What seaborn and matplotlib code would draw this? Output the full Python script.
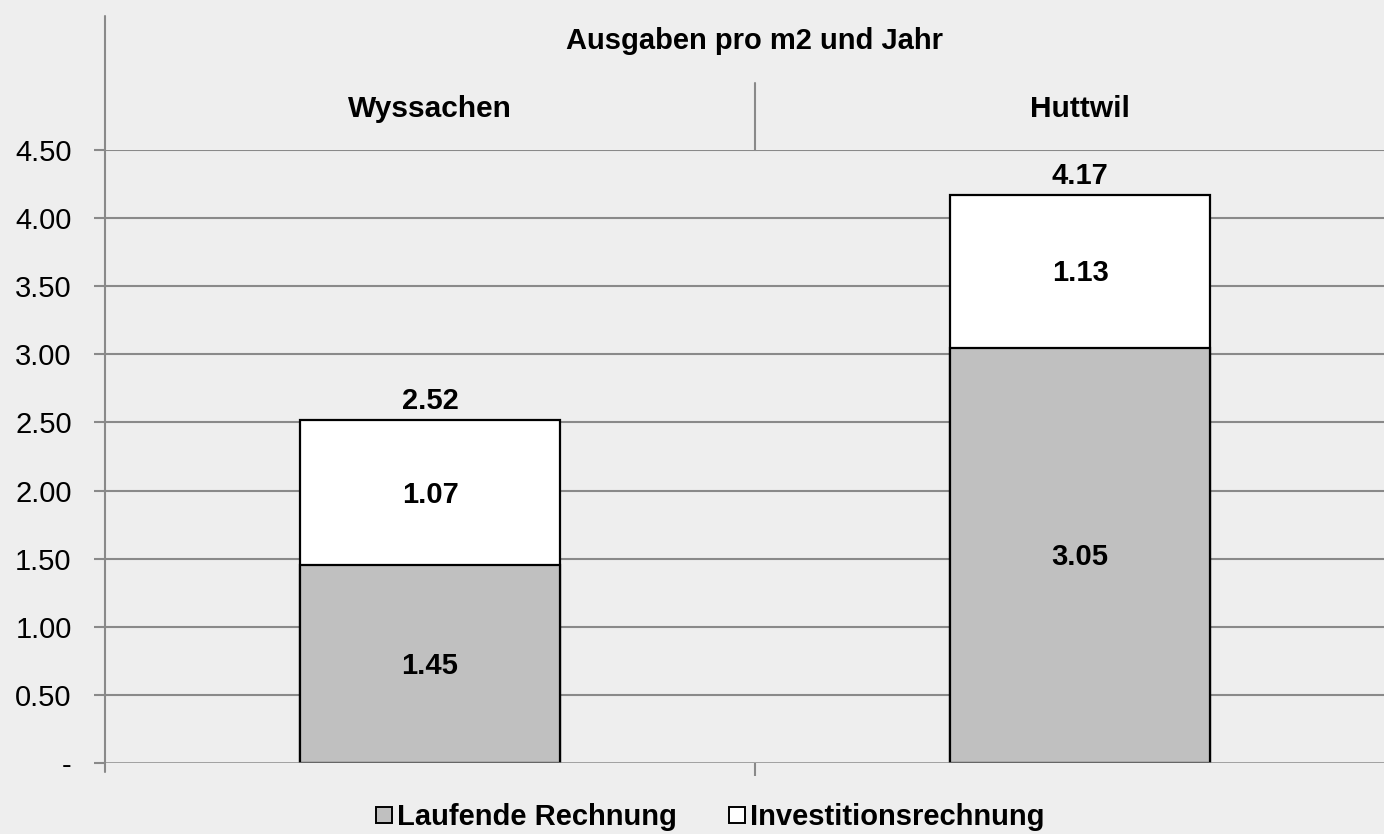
import matplotlib
matplotlib.use("Agg")
import matplotlib.pyplot as plt
import seaborn as sns
import pandas as pd
from matplotlib.lines import Line2D

# ---- data ----
gemeinden = ["Wyssachen", "Huttwil"]
laufende = [1.45, 3.05]
investition = [1.07, 1.13]
totals = [2.52, 4.17]
yticks = [0.0, 0.5, 1.0, 1.5, 2.0, 2.5, 3.0, 3.5, 4.0, 4.5]
ytick_labels = ["-", "0.50", "1.00", "1.50", "2.00", "2.50", "3.00", "3.50", "4.00", "4.50"]
title = "Ausgaben pro m2 und Jahr"
series_names = ["Laufende Rechnung", "Investitionsrechnung"]

sns.set_theme(style="white")
plt.rcParams["font.family"] = ["Liberation Sans", "DejaVu Sans"]
plt.rcParams["text.color"] = "black"
plt.rcParams["ytick.color"] = "black"
plt.rcParams["xtick.color"] = "black"

BG = "#EEEEEE"
GRID = "#898989"
GREY = "#C0C0C0"

W, H = 1384, 834
fig = plt.figure(figsize=(W / 100, H / 100), dpi=100, facecolor=BG)

def fx(x):
    return x / W

def fy(y):
    return 1 - y / H

ax_left, ax_right, ax_top, ax_bot = 105, 1405, 150, 763
ax = fig.add_axes([fx(ax_left), fy(ax_bot), (ax_right - ax_left) / W, (ax_bot - ax_top) / H])
ax.set_facecolor(BG)

df = pd.DataFrame({"Gemeinde": gemeinden, "Laufende": laufende,
                   "Investition": investition, "Total": totals})

# stacked look: total (white) drawn first, laufende (grey) on top
sns.barplot(data=df, x="Gemeinde", y="Total", color="white", saturation=1,
            width=0.4, edgecolor="black", linewidth=1.6, ax=ax, zorder=3)
sns.barplot(data=df, x="Gemeinde", y="Laufende", color=GREY, saturation=1,
            width=0.4, edgecolor="black", linewidth=1.6, ax=ax, zorder=4)

ax.set_xlim(-0.5, 1.5)
ax.set_ylim(0, 4.5)
ax.set_xlabel("")
ax.set_ylabel("")

for y in yticks[1:]:
    ax.axhline(y, color=GRID, lw=1.5, zorder=1)
ax.axhline(0, color=GRID, lw=1.8, zorder=5)

ax.set_yticks(yticks)
ax.set_yticklabels(ytick_labels, fontsize=21, color="black")
ax.tick_params(axis="y", length=8, width=1.5, color=GRID, pad=16, left=True,
               labelcolor="black")
ax.set_xticks([0.5])
ax.set_xticklabels([""])
ax.tick_params(axis="x", length=9, width=1.5, color=GRID, bottom=True)
for s in ax.spines.values():
    s.set_visible(False)

# value labels (baseline placed slightly below segment middle)
px = 4.5 / (ax_bot - ax_top)  # data units per pixel
half_digit = 10 * px
for i in range(len(gemeinden)):
    ax.text(i, laufende[i] / 2 - half_digit, f"{laufende[i]:.2f}", ha="center", va="baseline",
            fontsize=21, fontweight="bold", zorder=6)
    ax.text(i, laufende[i] + investition[i] / 2 - half_digit, f"{investition[i]:.2f}",
            ha="center", va="baseline", fontsize=21, fontweight="bold", zorder=6)
    ax.text(i, totals[i] + 11 * px, f"{totals[i]:.2f}", ha="center", va="baseline",
            fontsize=21, fontweight="bold", zorder=6)

# left vertical axis line extending into header
fig.add_artist(Line2D([fx(105), fx(105)], [fy(16), fy(772)], color=GRID, lw=1.5))
# header divider
fig.add_artist(Line2D([fx(755), fx(755)], [fy(83), fy(150)], color=GRID, lw=1.5))

fig.text(fx(755), fy(49), title, ha="center", va="baseline", fontsize=21, fontweight="bold")
fig.text(fx(430), fy(117), gemeinden[0], ha="center", va="baseline", fontsize=21.5,
         fontweight="bold")
fig.text(fx(1080), fy(117), gemeinden[1], ha="center", va="baseline", fontsize=21.5,
         fontweight="bold")

handles = [Line2D([], [], linestyle="none", marker="s", markersize=11.5,
                  markerfacecolor=GREY, markeredgecolor="black", markeredgewidth=1.4),
           Line2D([], [], linestyle="none", marker="s", markersize=11.5,
                  markerfacecolor="white", markeredgecolor="black", markeredgewidth=1.4)]
leg = fig.legend(handles, series_names, loc="center", bbox_to_anchor=(fx(710), fy(817)),
                 ncol=2, frameon=False, prop={"size": 21, "weight": "bold"},
                 handlelength=0.6, handletextpad=0.15,
                 columnspacing=1.75, borderpad=0)

fig.savefig("out.png", dpi=100, facecolor=BG)
